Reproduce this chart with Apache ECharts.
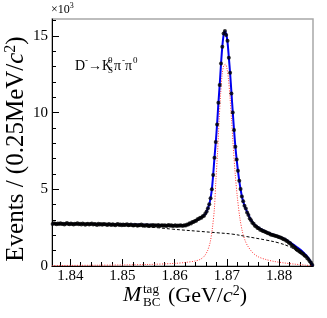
<!DOCTYPE html>
<html><head><meta charset="utf-8">
<script src="https://cdn.jsdelivr.net/npm/echarts@6/dist/echarts.min.js"></script>
<style>html,body{margin:0;padding:0;background:#fff}#c{width:327px;height:318px}</style>
</head><body><div id="c"></div>
<script>
// bins of 0.25 MeV starting at 1.8365 GeV
const binStart = 1.836625, binWidth = 0.00025;
const dataY = [
2.74,2.78,2.75,2.72,2.77,2.74,2.79,2.73,2.76,2.71,
2.75,2.80,2.74,2.72,2.77,2.73,2.70,2.76,2.74,2.78,
2.72,2.75,2.71,2.77,2.73,2.69,2.74,2.76,2.71,2.73,
2.77,2.70,2.74,2.72,2.68,2.75,2.71,2.73,2.69,2.74,
2.72,2.70,2.67,2.73,2.71,2.68,2.72,2.69,2.66,2.71,
2.73,2.68,2.70,2.66,2.71,2.67,2.69,2.72,2.65,2.68,
2.70,2.66,2.64,2.69,2.67,2.63,2.68,2.65,2.70,2.64,
2.66,2.62,2.67,2.65,2.61,2.66,2.64,2.68,2.62,2.65,
2.63,2.67,2.61,2.64,2.66,2.62,2.65,2.60,2.64,2.67,
2.62,2.65,2.61,2.63,2.66,2.60,2.64,2.62,2.65,2.63,
2.62,2.66,2.64,2.71,2.70,2.78,2.77,2.86,2.86,2.93,
2.95,3.04,3.06,3.14,3.15,3.24,3.28,3.42,3.55,3.77,
4.02,4.42,5.00,5.93,7.06,8.08,9.23,10.64,11.79,13.20,
14.29,15.16,15.31,15.05,14.68,13.57,12.60,11.25,10.01,8.86,
7.77,6.95,6.21,5.55,5.02,4.53,4.22,3.93,3.74,3.48,
3.32,3.10,2.99,2.82,2.75,2.62,2.58,2.48,2.46,2.37,
2.35,2.28,2.27,2.21,2.19,2.13,2.12,2.06,2.04,2.00,
1.99,1.95,1.94,1.89,1.88,1.84,1.80,1.74,1.72,1.64,
1.61,1.52,1.48,1.37,1.32,1.22,1.17,1.08,1.03,0.95,
0.91,0.83,0.78,0.69,0.63,0.52,0.44,0.31,0.21,0.07
];
const totalX = [1.8365,1.8415,1.8465,1.8515,1.8565,1.8600,1.8620,1.8629,1.8639,1.8649,1.8659,
1.866125,1.866375,1.866625,1.866875,1.867125,1.867375,1.867625,1.867875,1.868125,1.868375,
1.868625,1.868875,1.869125,1.869375,1.869625,1.869875,1.870125,1.870375,1.870625,1.870875,
1.871125,1.871375,1.871625,1.871875,1.872125,1.872375,1.872625,1.872875,1.873125,1.873375,
1.873625,1.874125,1.874625,1.875125,1.875625,1.876375,1.877375,1.878375,1.879375,1.880375,
1.881375,1.882375,1.883375,1.884375,1.885125,1.885625,1.886125,1.8865];
const totalY = [2.76,2.74,2.72,2.70,2.67,2.64,2.64,2.78,2.93,3.12,3.40,
3.56,3.77,4.02,4.42,5.00,5.93,7.06,8.08,9.23,10.60,
11.80,13.15,14.30,15.05,15.30,15.10,14.60,13.60,12.55,11.30,
10.05,8.86,7.80,6.95,6.20,5.55,5.00,4.55,4.20,3.93,
3.72,3.34,3.00,2.76,2.60,2.44,2.26,2.10,1.98,1.86,
1.70,1.48,1.24,0.98,0.72,0.51,0.23,0.0];
const bgX = [1.8365,1.8415,1.8465,1.8515,1.8565,1.8596,1.8647,1.8680,1.8710,1.8736,1.8775,1.8800,1.8820,1.8830,1.8840,1.8850,1.8857,1.8862,1.8865];
const bgY = [2.73,2.71,2.67,2.60,2.50,2.40,2.26,2.17,2.08,1.93,1.69,1.50,1.26,1.06,0.84,0.60,0.42,0.21,0.0];
const sigX = [1.8365,1.845,1.850,1.855,1.860,1.862,1.864,1.865,1.8657,1.8663,1.8668,1.8672,1.8676,1.8679,1.8682,1.8685,1.8688,1.8691,1.8694,1.8697,1.8700,1.8703,1.8706,1.8709,1.8712,1.8716,1.8720,1.8725,1.8730,1.8735,1.8740,1.8750,1.8760,1.8775,1.8790,1.8810,1.8830,1.8850,1.8865];
const sigY = [0.03,0.05,0.07,0.10,0.17,0.23,0.33,0.45,0.65,1.0,1.55,2.4,3.7,5.6,7.3,9.4,11.2,12.5,13.05,13.15,12.9,12.2,11.0,9.5,7.9,6.0,4.5,3.1,2.2,1.65,1.3,0.85,0.6,0.42,0.3,0.2,0.12,0.06,0.0];
const xTickLabels = [1.84,1.85,1.86,1.87,1.88];
const xMinorTicks = [1.838,1.842,1.844,1.846,1.848,1.852,1.854,1.856,1.858,1.862,1.864,1.866,1.868,1.872,1.874,1.876,1.878,1.882,1.884,1.886];
const yTickLabels = [0,5,10,15];
const yMinorTicks = [1,2,3,4,6,7,8,9,11,12,13,14,16];

const pts = dataY.map((v,i)=>[binStart+i*binWidth, v]);
const zip = (a,b)=>a.map((x,i)=>[x,b[i]]);
const F = 'Liberation Serif';
const chart = echarts.init(document.getElementById('c'), null, {renderer:'canvas'});
const X0 = 1.8365, X1 = 1.8865, Y1 = 16.1;
chart.setOption({
  animation:false,
  grid:{left:52,right:14,top:19,bottom:52,show:true,borderColor:'#a8a8a8',borderWidth:1.5},
  xAxis:[
    {type:'value',min:X0,max:X1,position:'bottom',
     axisLine:{lineStyle:{color:'#000',width:1}},
     axisTick:{inside:true,length:7,customValues:xTickLabels,lineStyle:{color:'#000'}},
     axisLabel:{customValues:xTickLabels,formatter:v=>v.toFixed(2),fontFamily:F,fontSize:15,color:'#000',margin:3},
     splitLine:{show:false}},
    {type:'value',min:X0,max:X1,position:'bottom',
     axisLine:{show:false},
     axisTick:{inside:true,length:4,customValues:xMinorTicks,lineStyle:{color:'#000'}},
     axisLabel:{show:false},splitLine:{show:false}}
  ],
  yAxis:[
    {type:'value',min:0,max:Y1,position:'left',
     axisLine:{show:true,lineStyle:{color:'#000',width:1}},
     axisTick:{show:true,inside:true,length:7,customValues:yTickLabels,lineStyle:{color:'#000'}},
     axisLabel:{customValues:yTickLabels,fontFamily:F,fontSize:15,color:'#000',margin:4},
     splitLine:{show:false}},
    {type:'value',min:0,max:Y1,position:'left',
     axisLine:{show:false},
     axisTick:{show:true,inside:true,length:4,customValues:yMinorTicks,lineStyle:{color:'#000'}},
     axisLabel:{show:false},splitLine:{show:false}}
  ],
  series:[
    {type:'line',data:zip(bgX,bgY),smooth:0.4,symbol:'none',z:2,
     lineStyle:{color:'#000',width:1,type:[3,2]}},
    {type:'line',data:zip(sigX,sigY),smooth:0.3,symbol:'none',z:2,
     lineStyle:{color:'#ff3030',width:1,type:[1,1.5]}},
    {type:'line',data:zip(totalX,totalY),smooth:0.3,symbol:'none',z:3,
     lineStyle:{color:'#0000ee',width:2}},
    {type:'scatter',data:pts,symbol:'circle',symbolSize:4,z:4,
     itemStyle:{color:'#000'}}
  ],
  graphic:[
    {type:'text',left:51,top:2,style:{text:'×10{s|3}',font:'12px '+F,fill:'#000',
      rich:{s:{fontSize:8,fontFamily:F,padding:[0,0,7,0]}}}},
    {type:'text',x:16,y:149,rotation:Math.PI/2,style:{text:'Events / (0.25MeV/{i|c}{s|2})',font:'25px '+F,fill:'#000',align:'center',verticalAlign:'middle',
      rich:{i:{fontStyle:'italic',fontSize:25,fontFamily:F},s:{fontSize:16,fontFamily:F,padding:[0,0,11,0]}}}},
    {type:'group',left:123,top:283,children:[
      {type:'text',x:0,y:0,style:{text:'M',font:'italic 22px '+F,fill:'#000'}},
      {type:'text',x:20,y:-1,style:{text:'tag',font:'13px '+F,fill:'#000'}},
      {type:'text',x:20,y:12,style:{text:'BC',font:'13px '+F,fill:'#000'}},
      {type:'text',x:45,y:0,style:{text:'(GeV/{i|c}{s|2})',font:'22px '+F,fill:'#000',
        rich:{i:{fontStyle:'italic',fontSize:22,fontFamily:F},s:{fontSize:14,fontFamily:F,padding:[0,0,10,0]}}}}
    ]},
    {type:'group',left:75,top:56,children:[
      {type:'text',x:0,y:0,style:{text:'D',font:'14px '+F,fill:'#000'}},
      {type:'text',x:10,y:-3,style:{text:'-',font:'9px '+F,fill:'#000'}},
      {type:'text',x:13,y:0,style:{text:'→K',font:'14px '+F,fill:'#000'}},
      {type:'text',x:33,y:-3,style:{text:'0',font:'9px '+F,fill:'#000'}},
      {type:'text',x:33,y:7,style:{text:'S',font:'9px '+F,fill:'#000'}},
      {type:'text',x:39,y:0,style:{text:'π',font:'14px '+F,fill:'#000'}},
      {type:'text',x:47,y:-3,style:{text:'-',font:'9px '+F,fill:'#000'}},
      {type:'text',x:50,y:0,style:{text:'π',font:'14px '+F,fill:'#000'}},
      {type:'text',x:58,y:-3,style:{text:'0',font:'9px '+F,fill:'#000'}}
    ]}
  ]
});
</script></body></html>
